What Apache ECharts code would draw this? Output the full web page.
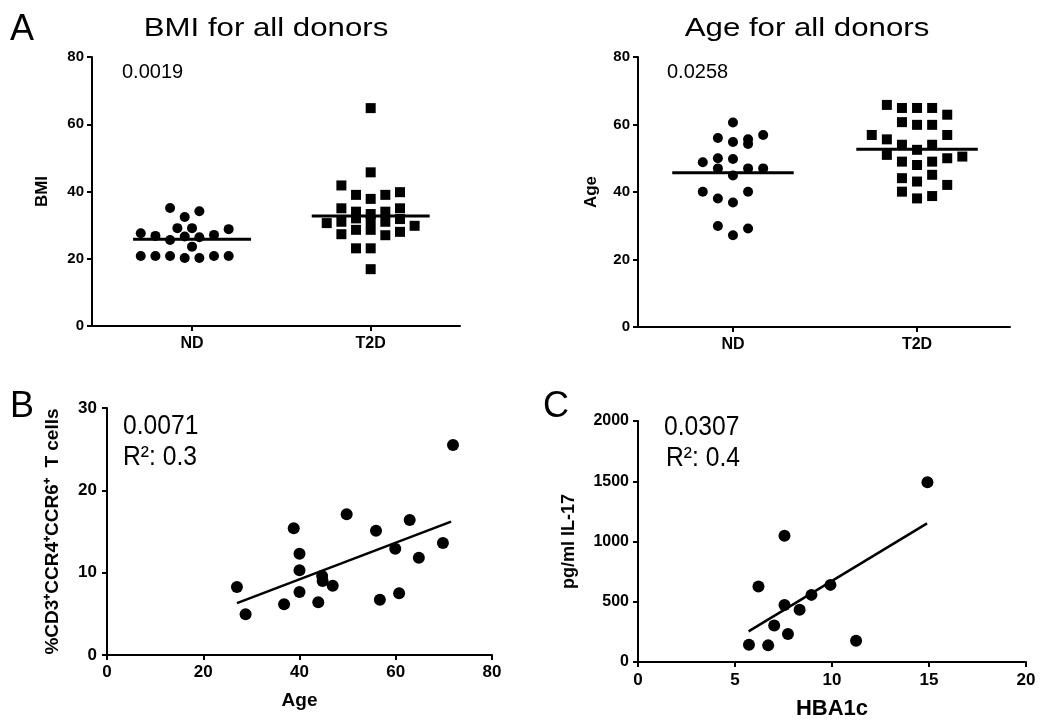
<!DOCTYPE html>
<html>
<head>
<meta charset="utf-8">
<script src="https://cdn.jsdelivr.net/npm/echarts@6/dist/echarts.min.js"></script>
<style>
html, body { margin: 0; padding: 0; background: #fff; }
#chart { width: 1050px; height: 726px; }
</style>
</head>
<body>
<div id="chart"></div>
<script>
const groups = ['ND', 'T2D']

// panel A, each point is [column slot in the swarm, value]
const bmiND = [
  [-3.5, 20.8], [-2.5, 20.8], [-1.5, 20.8], [-0.5, 20.2], [0.5, 20.2], [1.5, 20.8], [2.5, 20.8],
  [0, 23.6], [-3.5, 27.6], [-2.5, 26.8], [-1.5, 25.6], [-0.5, 26.6], [0.5, 26.4], [1.5, 27.1],
  [2.5, 28.8], [-1, 29.1], [0, 29.1], [-0.5, 32.4], [-1.5, 35.1], [0.5, 34.1],
]
const bmiT2D = [
  [0, 64.8], [0, 45.7], [-2, 41.8], [-1, 39.0], [0, 37.8], [1, 39.0], [2, 39.8],
  [-2, 35.0], [-1, 34.0], [0, 33.3], [1, 34.0], [2, 35.0], [-3, 30.6], [3, 29.8],
  [-2, 31.0], [-2, 27.3], [-1, 32.0], [-1, 28.6], [-1, 23.1], [0, 31.5], [0, 28.6],
  [0, 23.1], [0, 16.9], [1, 31.0], [1, 27.0], [2, 31.8], [2, 28.0],
]
const bmiMeans = [25.8, 32.7]

const ageND = [
  [0, 60.6], [-1, 56.0], [0, 54.8], [1, 55.6], [1, 54.2], [2, 56.9], [-2, 48.8],
  [-1, 50.0], [0, 49.8], [-1, 47.0], [1, 47.0], [2, 47.0], [0, 44.9], [-2, 40.1],
  [-1, 38.1], [0, 36.9], [1, 40.1], [-1, 29.9], [0, 27.2], [1, 29.2],
]
const ageT2D = [
  [-2, 65.8], [-1, 64.9], [0, 64.9], [1, 64.9], [2, 62.9], [-1, 60.7], [0, 59.9],
  [1, 59.9], [-3, 56.9], [-2, 55.6], [2, 56.9], [-1, 54.0], [0, 52.5], [1, 54.0],
  [-2, 51.0], [2, 50.0], [3, 50.5], [-1, 49.0], [0, 48.0], [1, 49.0], [-1, 44.1],
  [0, 43.1], [1, 45.1], [-1, 40.1], [0, 38.1], [1, 38.8], [2, 42.1],
]
const ageMeans = [45.7, 52.7]

// panel B
const donorAge = [27, 28.8, 36.8, 38.8, 40, 40, 40, 43.9, 44.7, 44.8, 46.9, 49.8, 55.9, 56.7, 59.9, 60.7, 62.9, 64.8, 69.8, 71.9]
const th17Pct = [8.25, 4.95, 6.15, 15.4, 12.3, 10.3, 7.65, 6.4, 9.6, 9.0, 8.4, 17.1, 15.1, 6.7, 12.9, 7.5, 16.4, 11.8, 13.6, 25.5]
const fitAgeX = [27, 71.5]
const fitAgeY = [6.3, 16.2]

// panel C
const hba1c = [5.72, 6.21, 6.71, 7.02, 7.55, 7.55, 7.73, 8.33, 8.94, 9.92, 11.24, 14.92]
const il17 = [143, 626, 138, 303, 1048, 474, 232, 433, 557, 640, 177, 1492]
const fitHbaX = [5.7, 14.9]
const fitHbaY = [254, 1150]

const pValues = ['0.0019', '0.0258', '0.0071', '0.0307']
const rSquared = ['0.3', '0.4']

const FONT = '"Liberation Sans", Arial, sans-serif'
const SLOT = 0.082
const HALF = 0.33

function swarm(points, group) {
  return points.map((p) => [group + 1 + p[0] * SLOT, p[1]])
}

function pairs(xs, ys) {
  return xs.map((x, i) => [x, ys[i]])
}

function axisBase(size) {
  return {
    axisLine: { lineStyle: { color: '#000', width: 2 } },
    axisTick: { length: 5, lineStyle: { color: '#000', width: 2 } },
    splitLine: { show: false },
    axisLabel: {
      color: '#000', fontWeight: 'bold', fontFamily: FONT, fontSize: size,
      formatter: (v) => String(v),
    },
    nameTextStyle: { color: '#000', fontWeight: 'bold', fontFamily: FONT },
  }
}

function groupAxis(grid, min, max) {
  const base = axisBase(16)
  return {
    ...base,
    gridIndex: grid,
    type: 'value',
    min: min,
    max: max,
    axisTick: { ...base.axisTick, customValues: [1, 2] },
    axisLabel: {
      ...base.axisLabel,
      margin: 10,
      customValues: [1, 2],
      formatter: (v) => groups[Math.round(v) - 1],
    },
  }
}

function meanLine(grid, group, value) {
  return {
    type: 'line',
    xAxisIndex: grid,
    yAxisIndex: grid,
    symbol: 'none',
    z: 3,
    lineStyle: { color: '#000', width: 3 },
    data: [[group + 1 - HALF, value], [group + 1 + HALF, value]],
  }
}

function dots(grid, data, symbol, size) {
  return {
    type: 'scatter',
    xAxisIndex: grid,
    yAxisIndex: grid,
    symbol: symbol,
    symbolSize: size,
    itemStyle: { color: '#000', opacity: 1 },
    data: data,
  }
}

function fitLine(grid, xs, ys) {
  return {
    type: 'line',
    xAxisIndex: grid,
    yAxisIndex: grid,
    symbol: 'none',
    lineStyle: { color: '#000', width: 2.5 },
    data: pairs(xs, ys),
  }
}

function label(text, x, y, size, opts) {
  return {
    type: 'text',
    x: x,
    y: y,
    scaleX: (opts && opts.scaleX) || 1,
    style: {
      text: text,
      font: size + 'px ' + FONT,
      fill: '#000',
      textAlign: (opts && opts.align) || 'left',
      textVerticalAlign: 'middle',
    },
  }
}

const chart = echarts.init(document.getElementById('chart'))

chart.setOption({
  animation: false,
  backgroundColor: '#fff',
  grid: [
    { left: 92, top: 57, width: 368, height: 269 },
    { left: 638, top: 57, width: 372, height: 270 },
    { left: 107, top: 408, width: 385, height: 247 },
    { left: 638, top: 421, width: 388, height: 241 },
  ],
  xAxis: [
    groupAxis(0, 0.44, 2.5),
    groupAxis(1, 0.484, 2.505),
    {
      ...axisBase(17),
      gridIndex: 2, type: 'value', min: 0, max: 80, interval: 20,
      name: 'Age', nameLocation: 'middle', nameGap: 36,
      nameTextStyle: { ...axisBase(17).nameTextStyle, fontSize: 19 },
      axisLabel: { ...axisBase(17).axisLabel, margin: 9 },
    },
    {
      ...axisBase(17),
      gridIndex: 3, type: 'value', min: 0, max: 20, interval: 5,
      name: 'HBA1c', nameLocation: 'middle', nameGap: 36,
      nameTextStyle: { ...axisBase(17).nameTextStyle, fontSize: 22 },
      axisLabel: { ...axisBase(17).axisLabel, margin: 10 },
    },
  ],
  yAxis: [
    {
      ...axisBase(15),
      gridIndex: 0, type: 'value', min: 0, max: 80, interval: 20,
      name: 'BMI', nameLocation: 'middle', nameGap: 41,
      nameTextStyle: { ...axisBase(15).nameTextStyle, fontSize: 17 },
      axisLabel: { ...axisBase(15).axisLabel, margin: 8 },
    },
    {
      ...axisBase(15),
      gridIndex: 1, type: 'value', min: 0, max: 80, interval: 20,
      name: 'Age', nameLocation: 'middle', nameGap: 38,
      nameTextStyle: { ...axisBase(15).nameTextStyle, fontSize: 17 },
      axisLabel: { ...axisBase(15).axisLabel, margin: 8 },
    },
    {
      ...axisBase(17),
      gridIndex: 2, type: 'value', min: 0, max: 30, interval: 10,
      name: '%CD3\u207ACCR4\u207ACCR6\u207A  T cells', nameLocation: 'middle', nameGap: 45,
      nameTextStyle: { ...axisBase(17).nameTextStyle, fontSize: 19 },
      axisLabel: { ...axisBase(17).axisLabel, margin: 10 },
    },
    {
      ...axisBase(16),
      gridIndex: 3, type: 'value', min: 0, max: 2000, interval: 500,
      name: 'pg/ml IL-17', nameLocation: 'middle', nameGap: 60,
      nameTextStyle: { ...axisBase(16).nameTextStyle, fontSize: 18 },
      axisLabel: { ...axisBase(16).axisLabel, margin: 9 },
    },
  ],
  series: [
    dots(0, swarm(bmiND, 0), 'circle', 10),
    dots(0, swarm(bmiT2D, 1), 'rect', 10),
    meanLine(0, 0, bmiMeans[0]),
    meanLine(0, 1, bmiMeans[1]),
    dots(1, swarm(ageND, 0), 'circle', 10),
    dots(1, swarm(ageT2D, 1), 'rect', 10),
    meanLine(1, 0, ageMeans[0]),
    meanLine(1, 1, ageMeans[1]),
    dots(2, pairs(donorAge, th17Pct), 'circle', 12),
    fitLine(2, fitAgeX, fitAgeY),
    dots(3, pairs(hba1c, il17), 'circle', 12),
    fitLine(3, fitHbaX, fitHbaY),
  ],
  graphic: [
    label('A', 10, 30, 36),
    label('BMI for all donors', 266, 29, 26, { align: 'center', scaleX: 1.2 }),
    label('Age for all donors', 807, 29, 26, { align: 'center', scaleX: 1.2 }),
    label(pValues[0], 122, 72, 20),
    label(pValues[1], 667, 72, 20),
    label('B', 10, 407, 36),
    label(pValues[2], 123, 426, 28, { scaleX: 0.88 }),
    label('R\u00B2: ' + rSquared[0], 123, 457, 28, { scaleX: 0.88 }),
    label('C', 543, 407, 36),
    label(pValues[3], 664, 427, 28, { scaleX: 0.88 }),
    label('R\u00B2: ' + rSquared[1], 666, 458, 28, { scaleX: 0.88 }),
  ],
})
</script>
</body>
</html>
